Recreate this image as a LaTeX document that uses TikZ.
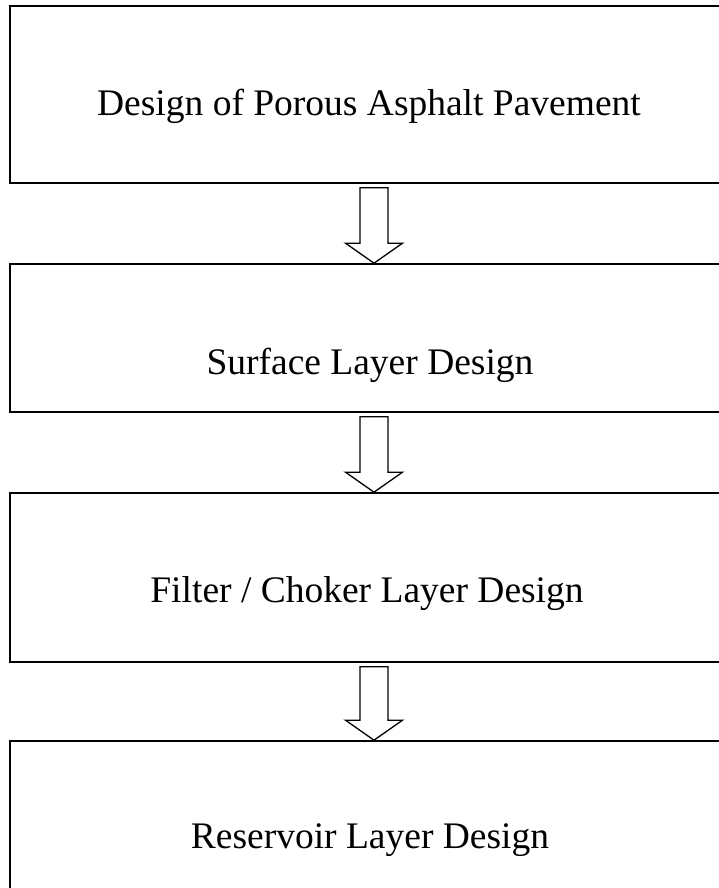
\documentclass[tikz,border=0pt]{standalone}
\usepackage{fontspec}
\setmainfont{Liberation Serif}
\usetikzlibrary{calc}
\tikzset{
  box/.style={draw=black, line width=1.6pt, rectangle, minimum width=728pt, inner sep=0pt},
  lbl/.style={anchor=base, font=\fontsize{37.5}{42}\selectfont, inner sep=0pt},
  blockarrow/.style={draw=black, line width=1.3pt, fill=white, line join=miter}
}
\begin{document}
\begin{tikzpicture}[x=1pt,y=1pt]
\clip (0,0) rectangle (719,888);
\fill[white] (0,0) rectangle (719,888);
\node[box, minimum height=177pt] (b1) at (374,793.5) {};
\node[box, minimum height=148pt] (b2) at (374,550) {};
\node[box, minimum height=169pt] (b3) at (374,310.5) {};
\node[box, minimum height=200pt] (b4) at (374,47) {};
\node[lbl] (t1) at (369,772) {Design of Porous Asphalt Pavement};
\node[lbl] (t2) at (370,513) {Surface Layer Design};
\node[lbl] (t3) at (367,285) {Filter / Choker Layer Design};
\node[lbl] (t4) at (370,39) {Reservoir Layer Design};
\foreach \a/\b in {b1/b2, b2/b3, b3/b4}{
  \draw[blockarrow]
    ($(\a.south)+(-14,-4)$) -- ($(\b.north)+(-14,20)$) -- ($(\b.north)+(-28.5,20)$)
    -- (\b.north) -- ($(\b.north)+(28.5,20)$) -- ($(\b.north)+(14,20)$)
    -- ($(\a.south)+(14,-4)$) -- cycle;
}
\end{tikzpicture}
\end{document}
